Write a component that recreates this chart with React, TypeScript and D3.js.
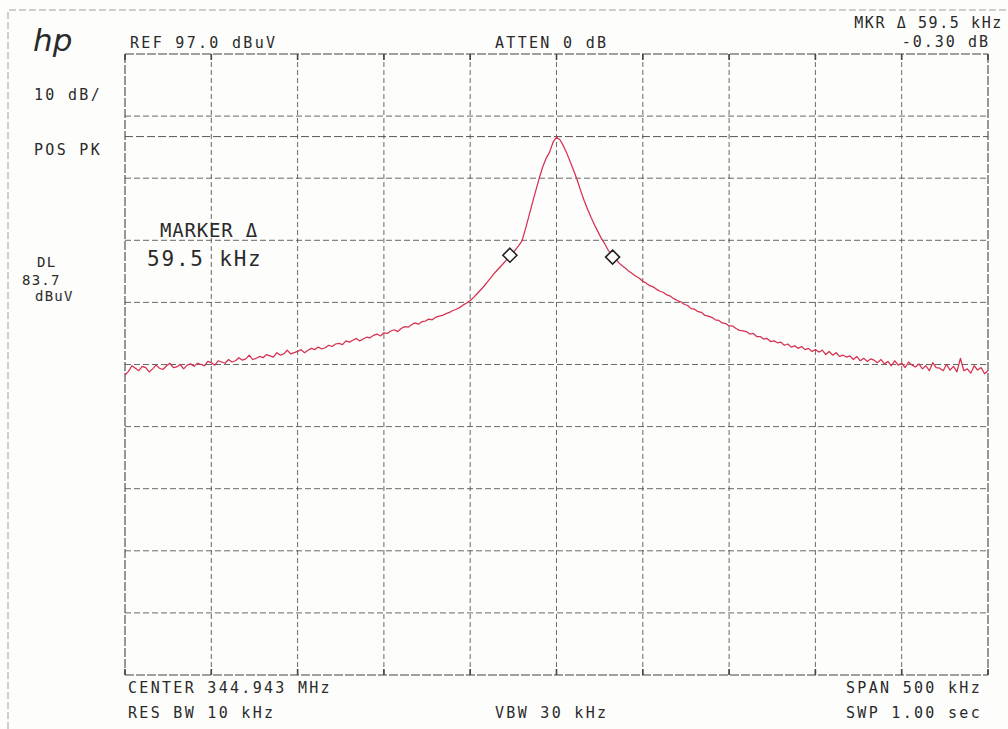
import React, { useEffect, useRef } from "react";
import * as d3 from "d3";

// sweep: -250 kHz .. +250 kHz around center, 2 kHz per point
const sweepStartKHz = -250;
const sweepStepKHz = 2;

const traceDbuv: number[] = [
  45.3, 45.9, 46.8, 46.4, 46.0, 46.7, 46.5, 45.8, 46.3, 46.9,
  46.4, 46.2, 46.8, 47.2, 46.5, 46.6, 47.0, 46.3, 46.9, 47.1,
  46.7, 47.2, 47.0, 46.8, 47.5, 47.3, 46.9, 47.6, 47.4, 47.2,
  47.8, 47.4, 47.6, 48.1, 47.7, 47.9, 48.5, 47.8, 48.0, 48.3,
  48.1, 48.6, 48.4, 48.2, 48.9, 48.5, 48.7, 49.3, 48.7, 48.9,
  49.1, 49.4, 48.9, 49.3, 49.6, 49.4, 49.8, 49.5, 49.7, 50.1,
  49.9, 50.3, 50.4, 50.2, 50.8, 50.6, 50.9, 51.2, 50.8, 51.1,
  51.4, 51.3, 51.7, 51.9, 51.6, 52.1, 52.0, 52.4, 52.6, 52.3,
  52.8, 53.1, 53.0, 53.4, 53.7, 53.5, 53.9, 54.0, 54.3, 54.2,
  54.6, 54.8, 54.9, 55.2, 55.4, 55.7, 55.9, 56.2, 56.6, 56.9,
  57.3, 57.8, 58.4, 59.0, 59.6, 60.3, 61.0, 61.7, 62.3, 62.9,
  63.5, 64.2, 64.8, 65.4, 66.1, 66.9, 68.8, 70.9, 73.0, 75.0,
  77.0, 78.8, 80.2, 81.2, 82.8, 83.6, 83.2, 82.2, 81.0, 79.6,
  78.2, 76.7, 75.0, 73.4, 72.0, 70.7, 69.5, 68.4, 67.3, 66.4,
  65.4, 64.6, 64.1, 63.4, 62.9, 62.5, 62.0, 61.6, 61.2, 60.9,
  60.4, 60.1, 59.7, 59.5, 59.1, 58.8, 58.6, 58.2, 58.0, 57.6,
  57.3, 57.1, 56.7, 56.5, 56.0, 55.9, 55.5, 55.4, 54.9, 54.8,
  54.6, 54.2, 54.1, 53.7, 53.6, 53.2, 53.2, 52.8, 52.5, 52.4,
  52.3, 51.9, 52.0, 51.5, 51.5, 51.1, 51.2, 50.7, 50.8, 50.5,
  50.6, 50.1, 50.3, 49.8, 50.0, 49.6, 49.9, 49.4, 49.6, 49.1,
  49.4, 49.0, 49.3, 48.6, 49.1, 48.5, 48.9, 48.3, 48.5, 48.2,
  48.4, 47.8, 48.3, 47.6, 48.0, 47.5, 47.9, 47.7, 47.3, 47.8,
  47.1, 47.5, 46.8, 47.6, 46.9, 47.2, 46.5, 47.4, 46.9, 46.6,
  47.1, 46.3, 46.8, 46.0, 47.3, 46.5, 46.4, 46.0, 47.0, 46.1,
  46.7, 45.8, 48.0, 46.0, 46.3, 45.6, 46.8, 46.1, 46.5, 45.5,
  46.0,
];

const markerKHz = [-27, 32.5];
const markerDbuv = [64.6, 64.3];

const refLevel = 97.0;
const dbPerDiv = 10;
const displayLine = 83.7;
const freqDivs = d3.range(-250, 251, 50);

const mono = "'DejaVu Sans Mono', monospace";

const App: React.FC = () => {
  const svgRef = useRef<SVGSVGElement>(null);

  useEffect(() => {
    if (!svgRef.current) return;
    const svg = d3.select(svgRef.current);
    svg.selectAll("*").remove();

    const x = d3.scaleLinear().domain([-250, 250]).range([125, 988]);
    const y = d3
      .scaleLinear()
      .domain([refLevel - 10 * dbPerDiv, refLevel])
      .range([675, 54]);
    const levelDivs = d3.range(0, 11).map((i) => refLevel - i * dbPerDiv);

    svg.append("rect").attr("width", 1008).attr("height", 729).attr("fill", "#fdfdfc");

    // paper edge
    svg
      .append("path")
      .attr("d", "M8,729 L8,10 L1008,10")
      .attr("fill", "none")
      .attr("stroke", "#888")
      .attr("stroke-dasharray", "7,3")
      .attr("stroke-width", 0.8);

    const grid = svg.append("g").attr("stroke", "#444").attr("fill", "none");

    grid
      .selectAll(".vline")
      .data(freqDivs)
      .enter()
      .append("line")
      .attr("x1", (d) => x(d))
      .attr("x2", (d) => x(d))
      .attr("y1", y(refLevel))
      .attr("y2", y(refLevel - 100))
      .attr("stroke-width", (d, i) => (i === 0 || i === freqDivs.length - 1 ? 1.1 : 0.8))
      .attr("stroke-dasharray", (d, i) => (i === 0 || i === freqDivs.length - 1 ? "9,2" : "5,3"));

    grid
      .selectAll(".hline")
      .data(levelDivs)
      .enter()
      .append("line")
      .attr("x1", x(-250))
      .attr("x2", x(250))
      .attr("y1", (d) => y(d))
      .attr("y2", (d) => y(d))
      .attr("stroke-width", (d, i) => (i === 0 || i === levelDivs.length - 1 ? 1.1 : 0.8))
      .attr("stroke-dasharray", (d, i) => (i === 0 || i === levelDivs.length - 1 ? "9,2" : "6,3"));

    // display line
    grid
      .append("line")
      .attr("x1", x(-250))
      .attr("x2", x(250))
      .attr("y1", y(displayLine))
      .attr("y2", y(displayLine))
      .attr("stroke-width", 0.9)
      .attr("stroke-dasharray", "8,3");

    // edge ticks
    grid
      .selectAll(".tick")
      .data(freqDivs)
      .enter()
      .append("path")
      .attr("d", (d) => `M${x(d)},${y(refLevel)}v6M${x(d)},${y(refLevel - 100)}v-6`)
      .attr("stroke-width", 1.6);

    const line = d3
      .line<number>()
      .x((d, i) => x(sweepStartKHz + i * sweepStepKHz))
      .y((d) => y(d));

    svg
      .append("path")
      .datum(traceDbuv)
      .attr("d", line)
      .attr("fill", "none")
      .attr("stroke", "#d6304f")
      .attr("stroke-width", 1.25)
      .attr("stroke-linejoin", "round");

    const s = 7;
    svg
      .selectAll(".mkr")
      .data(markerKHz)
      .enter()
      .append("path")
      .attr("d", (d, i) => {
        const cx = x(d);
        const cy = y(markerDbuv[i]);
        return `M${cx},${cy - s}L${cx + s},${cy}L${cx},${cy + s}L${cx - s},${cy}Z`;
      })
      .attr("fill", "#fff")
      .attr("stroke", "#222")
      .attr("stroke-width", 1.6);

    const label = (
      t: string,
      tx: number,
      ty: number,
      size = 15,
      anchor = "start",
      spacing = 2.3
    ) =>
      svg
        .append("text")
        .attr("x", tx)
        .attr("y", ty)
        .attr("font-family", mono)
        .attr("font-size", size)
        .attr("letter-spacing", spacing)
        .attr("text-anchor", anchor)
        .attr("fill", "#2a2a2a")
        .text(t);

    svg
      .append("text")
      .attr("x", 33)
      .attr("y", 51)
      .attr("font-family", "'DejaVu Sans', sans-serif")
      .attr("font-style", "italic")
      .attr("font-size", 31)
      .attr("fill", "#2a2a2a")
      .text("hp");

    label("REF 97.0 dBuV", 130, 48);
    label("ATTEN 0 dB", 495, 48);
    label("MKR \u0394  59.5 kHz", 1003, 28, 15, "end", 1.6);
    label("-0.30 dB", 990, 47, 15, "end", 2.0);
    label("10 dB/", 34, 100);
    label("POS PK", 34, 155);
    label("MARKER \u0394", 160, 237, 19, "start", 0.8);
    label("59.5 kHz", 147, 266, 21, "start", 1.8);
    label("DL", 37, 267, 14, "start", 1.2);
    label("83.7", 22, 285, 14, "start", 1.2);
    label("dBuV", 35, 301, 14, "start", 1.2);
    label("CENTER 344.943 MHz", 128, 693);
    label("RES BW 10 kHz", 128, 718);
    label("VBW 30 kHz", 495, 718);
    label("SPAN 500 kHz", 982, 693, 15, "end");
    label("SWP 1.00  sec", 982, 718, 15, "end");
  }, []);

  return (
    <svg
      ref={svgRef}
      width={1008}
      height={729}
      style={{ position: "absolute", left: 0, top: 0 }}
    />
  );
};

export default App;
